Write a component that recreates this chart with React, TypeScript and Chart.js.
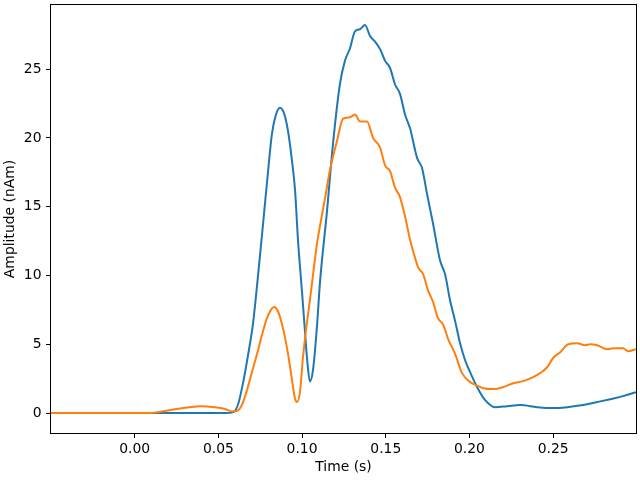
import React, { useEffect, useRef } from "react";
import { Chart, registerables } from "chart.js";

Chart.register(...registerables);

const blueTimes = [
  -0.05, 0.054, 0.0587, 0.0617, 0.0647, 0.0677, 0.0707, 0.0737, 0.0767, 0.0797,
  0.082, 0.0844, 0.0868, 0.0892, 0.0916, 0.094, 0.0958, 0.0976, 0.0999, 0.1017,
  0.1029, 0.1047, 0.1065, 0.1089, 0.1107, 0.1149, 0.1185, 0.1226, 0.1256, 0.1286,
  0.1316, 0.1346, 0.1376, 0.1406, 0.1436, 0.1466, 0.1496, 0.1525, 0.1555, 0.1585,
  0.1615, 0.1645, 0.1687, 0.1717, 0.1747, 0.1782, 0.1824, 0.1854, 0.1884, 0.1914,
  0.1944, 0.1974, 0.2004, 0.2046, 0.2094, 0.2153, 0.2225, 0.2302, 0.2404, 0.2494,
  0.2584, 0.2679, 0.2763, 0.2841, 0.2918, 0.2995,
];
const blueValues = [
  0, 0, 0.05, 0.6, 2.17, 4.2, 6.52, 10.0, 13.77, 17.6,
  20.3, 21.7, 22.2, 21.8, 20.5, 18.3, 16.2, 12.5, 8.9, 6.0,
  4.06, 2.3, 3.1, 6.3, 9.5, 14.7, 19.6, 23.9, 25.6, 26.5,
  27.75, 27.9, 28.2, 27.4, 27.0, 26.45, 25.6, 25.1, 23.9, 23.2,
  21.7, 20.7, 18.55, 17.8, 15.9, 13.8, 11.1, 10.1, 8.2, 6.7,
  5.07, 3.84, 2.97, 1.88, 0.94, 0.43, 0.5, 0.58, 0.43, 0.36,
  0.43, 0.58, 0.8, 1.01, 1.23, 1.52,
];

const orangeTimes = [
  -0.05, 0.0091, 0.0181, 0.0271, 0.039, 0.048, 0.054, 0.0581, 0.0611, 0.0641,
  0.0671, 0.0701, 0.0731, 0.0761, 0.079, 0.0814, 0.0832, 0.0856, 0.0877, 0.0898,
  0.0916, 0.094, 0.0957, 0.097, 0.0988, 0.1005, 0.1023, 0.1047, 0.1071, 0.1089,
  0.1107, 0.1137, 0.1167, 0.1209, 0.1245, 0.1286, 0.1316, 0.1346, 0.1388, 0.1424,
  0.1466, 0.1496, 0.1525, 0.1555, 0.1585, 0.1615, 0.1645, 0.1663, 0.1693, 0.1723,
  0.1753, 0.1782, 0.1812, 0.1842, 0.1872, 0.1914, 0.1956, 0.2004, 0.2046, 0.2082,
  0.2142, 0.2201, 0.2261, 0.2321, 0.2381, 0.2422, 0.2464, 0.25, 0.2542, 0.259,
  0.2643, 0.2691, 0.2721, 0.2763, 0.2823, 0.2859, 0.2918, 0.2948, 0.2995,
];
const orangeValues = [
  0, 0, 0.15, 0.33, 0.5, 0.43, 0.3, 0.12, 0.15, 0.6,
  1.67, 3.0, 4.3, 5.7, 6.9, 7.5, 7.7, 7.4, 6.6, 5.5,
  4.3, 2.4, 1.1, 0.8, 1.6, 4.0, 6.0, 8.2, 10.6, 12.3,
  13.6, 15.6, 17.7, 19.8, 21.4, 21.5, 21.7, 21.2, 21.2, 20.0,
  19.3, 18.0, 17.6, 16.4, 15.7, 14.3, 12.6, 11.8, 10.6, 10.1,
  8.9, 8.1, 6.9, 6.45, 5.4, 4.3, 2.9, 2.25, 2.0, 1.8,
  1.74, 1.88, 2.17, 2.32, 2.61, 2.9, 3.33, 4.0, 4.42, 5.0,
  5.07, 4.93, 5.0, 4.93, 4.64, 4.71, 4.71, 4.5, 4.64,
];

const xTickValues = [0, 0.05, 0.1, 0.15, 0.2, 0.25];
const yTickValues = [0, 5, 10, 15, 20, 25];
const xLabel = "Time (s)";
const yLabel = "Amplitude (nAm)";

const FONT = { family: "'DejaVu Sans', sans-serif", size: 13.9 };

const framePlugin = {
  id: "frame",
  afterDatasetsDraw(chart: any) {
    const { ctx, chartArea } = chart;
    ctx.save();
    ctx.strokeStyle = "#000";
    ctx.lineWidth = 1;
    ctx.strokeRect(
      Math.round(chartArea.left) - 0.5,
      Math.round(chartArea.top) - 0.5,
      Math.round(chartArea.right - chartArea.left) + 1,
      Math.round(chartArea.bottom - chartArea.top) + 1
    );
    ctx.restore();
  },
};

export default function App() {
  const ref = useRef<HTMLCanvasElement | null>(null);

  useEffect(() => {
    if (!ref.current) return;
    const chart = new Chart(ref.current, {
      type: "line",
      data: {
        datasets: [
          {
            label: "blue",
            data: blueTimes.map((t, i) => ({ x: t, y: blueValues[i] })),
            borderColor: "#1f77b4",
            borderWidth: 2,
            pointRadius: 0,
            cubicInterpolationMode: "monotone",
            fill: false,
            order: 1,
          },
          {
            label: "orange",
            data: orangeTimes.map((t, i) => ({ x: t, y: orangeValues[i] })),
            borderColor: "#ff7f0e",
            borderWidth: 2,
            pointRadius: 0,
            cubicInterpolationMode: "monotone",
            fill: false,
            order: 0,
          },
        ],
      },
      options: {
        animation: false,
        responsive: false,
        devicePixelRatio: 1,
        layout: { padding: { left: 0, right: 4, top: 5, bottom: 0 } },
        plugins: {
          legend: { display: false },
          tooltip: { enabled: false },
        },
        scales: {
          x: {
            type: "linear",
            min: -0.05,
            max: 0.2995,
            afterFit: (s: any) => {
              s.height = 47;
              s.paddingLeft = 0;
              s.paddingRight = 0;
            },
            afterBuildTicks: (s: any) => {
              s.ticks = xTickValues.map((v) => ({ value: v }));
            },
            ticks: {
              color: "#000",
              font: FONT,
              padding: 3,
              maxRotation: 0,
              autoSkip: false,
              callback: (v: any) => Number(v).toFixed(2),
            },
            grid: {
              display: true,
              drawOnChartArea: false,
              drawTicks: true,
              tickLength: 5,
              tickColor: "#000",
              tickWidth: 1,
            },
            border: { display: false },
            title: {
              display: true,
              text: xLabel,
              color: "#000",
              font: FONT,
              padding: { top: 0, bottom: 4 },
            },
          },
          y: {
            type: "linear",
            min: -1.45,
            max: 29.66,
            afterFit: (s: any) => {
              s.width = 51;
              s.paddingTop = 0;
              s.paddingBottom = 0;
            },
            afterBuildTicks: (s: any) => {
              s.ticks = yTickValues.map((v) => ({ value: v }));
            },
            ticks: {
              color: "#000",
              font: FONT,
              padding: 4.5,
              autoSkip: false,
              callback: (v: any) => String(v),
            },
            grid: {
              display: true,
              drawOnChartArea: false,
              drawTicks: true,
              tickLength: 5,
              tickColor: "#000",
              tickWidth: 1,
            },
            border: { display: false },
            title: {
              display: true,
              text: yLabel,
              color: "#000",
              font: FONT,
              padding: { top: 2, bottom: 0 },
            },
          },
        },
      },
      plugins: [framePlugin],
    } as any);
    return () => chart.destroy();
  }, []);

  return (
    <div style={{ position: "fixed", left: 0, top: 0, width: 640, height: 480, background: "#fff" }}>
      <canvas ref={ref} width={640} height={480} style={{ width: 640, height: 480, display: "block" }} />
    </div>
  );
}
